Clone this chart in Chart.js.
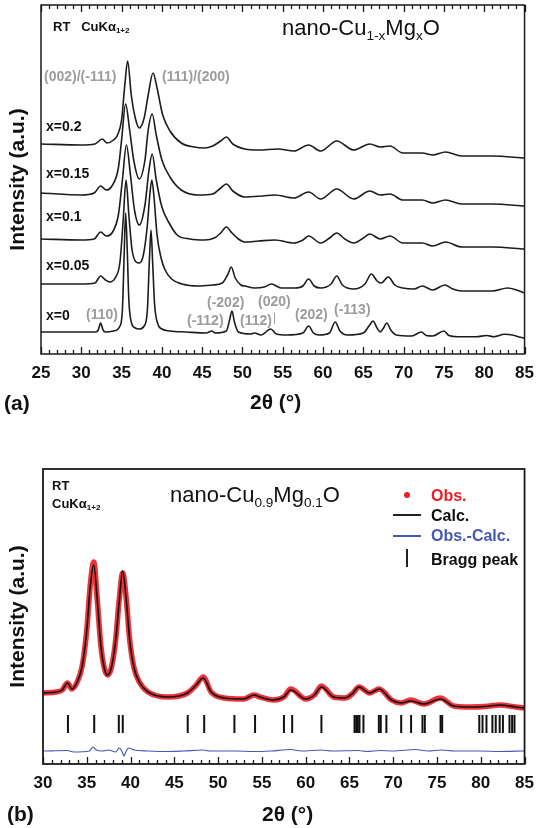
<!DOCTYPE html>
<html>
<head>
<meta charset="utf-8">
<script src="https://cdn.jsdelivr.net/npm/chart.js@4.4.1/dist/chart.umd.min.js"></script>
<style>
  body { margin: 0; background: #fff; }
  #fig { position: relative; width: 543px; height: 828px; font-family: "Liberation Sans", Arial, sans-serif; color: #111; }
  canvas { position: absolute; left: 0; }
  .t { position: absolute; white-space: nowrap; line-height: 1; transform: translateY(-50%); }
  .b { font-weight: bold; }
  .g { color: #9c9c9c; font-weight: bold; font-size: 14px; }
  .lbl { font-weight: bold; font-size: 14px; }
  .ttl { font-size: 22px; }
  .sm { font-weight: bold; font-size: 13px; }
  .leg { font-weight: bold; font-size: 16px; }
  sub { font-size: 0.62em; vertical-align: -0.35em; line-height: 0; }
</style>
</head>
<body>
<div id="fig">
  <canvas id="chartA" width="543" height="415" style="top:0"></canvas>
  <canvas id="chartB" width="543" height="413" style="top:415px"></canvas>

  <!-- panel (a) annotations -->
  <div class="t sm" style="left:53px;top:26px">RT&nbsp;&nbsp;&nbsp;CuK&alpha;<sub>1+2</sub></div>
  <div class="t ttl" style="left:282px;top:28px">nano-Cu<sub>1-x</sub>Mg<sub>x</sub>O</div>
  <div class="t g" style="left:44px;top:76px">(002)/(-111)</div>
  <div class="t g" style="left:162px;top:76px">(111)/(200)</div>
  <div class="t lbl" style="left:46px;top:126px">x=0.2</div>
  <div class="t lbl" style="left:46px;top:173px">x=0.15</div>
  <div class="t lbl" style="left:46px;top:216px">x=0.1</div>
  <div class="t lbl" style="left:46px;top:265px">x=0.05</div>
  <div class="t lbl" style="left:46px;top:315px">x=0</div>
  <div class="t g" style="left:86px;top:314px">(110)</div>
  <div class="t g" style="left:207px;top:302px">(-202)</div>
  <div class="t g" style="left:187px;top:320px">(-112)</div>
  <div class="t g" style="left:240px;top:320px">(112)</div>
  <div style="position:absolute;left:274px;top:313px;width:1px;height:11px;background:#9c9c9c"></div>
  <div class="t g" style="left:258px;top:301px">(020)</div>
  <div class="t g" style="left:295px;top:314px">(202)</div>
  <div class="t g" style="left:334px;top:309px">(-113)</div>
  <div class="t b" style="left:4px;top:402px;font-size:21px">(a)</div>
  <div class="t b" style="left:250px;top:401px;font-size:21px">2&theta; (&deg;)</div>

  <!-- panel (b) annotations -->
  <div class="t sm" style="left:52px;top:485px">RT</div>
  <div class="t sm" style="left:52px;top:503px">CuK&alpha;<sub>1+2</sub></div>
  <div class="t ttl" style="left:170px;top:495px">nano-Cu<sub>0.9</sub>Mg<sub>0.1</sub>O</div>
  <div style="position:absolute;left:404px;top:492px;width:6px;height:6px;border-radius:3px;background:#ee1c24"></div>
  <div class="t leg" style="left:431px;top:496px;color:#ee1c24">Obs.</div>
  <div style="position:absolute;left:393px;top:514px;width:28px;height:2px;background:#222"></div>
  <div class="t leg" style="left:431px;top:516px">Calc.</div>
  <div style="position:absolute;left:393px;top:535px;width:28px;height:2px;background:#4658b8"></div>
  <div class="t leg" style="left:431px;top:536px;color:#4658b8">Obs.-Calc.</div>
  <div style="position:absolute;left:406px;top:549px;width:2px;height:18px;background:#222"></div>
  <div class="t leg" style="left:431px;top:560px">Bragg peak</div>
  <div class="t b" style="left:7px;top:813px;font-size:21px">(b)</div>
  <div class="t b" style="left:262px;top:813px;font-size:21px">2&theta; (&deg;)</div>
</div>

<script>
// ---- (a) nano-Cu(1-x)Mg(x)O patterns: [2theta, intensity a.u.] ----
const compositions = ["x=0", "x=0.05", "x=0.1", "x=0.15", "x=0.2"];
const offsets = [16, 61, 105, 148, 196];

const patX0 = [[25,6],[30,6],[31.8,6],[32.1,8],[32.4,15],[32.7,8],[33.0,6],[34.0,7],[34.8,12],[35.1,28],[35.3,78],[35.5,125],[35.7,88],[35.9,38],[36.2,16],[36.7,10],[37.2,9],[37.8,12],[38.2,28],[38.45,78],[38.65,108],[38.85,76],[39.1,33],[39.5,14],[40.0,9],[41,7],[43,6],[45.5,5],[46.2,7],[46.6,5],[48.0,7],[48.4,18],[48.7,27],[49.0,16],[49.5,6],[51.0,4],[51.5,5],[52.3,3],[53.5,9],[54.2,4],[55.5,3],[57.5,5],[58.2,12],[58.8,5],[59.5,3],[60.8,5],[61.5,16],[62.1,7],[63.0,3],[65.0,5],[65.7,12],[66.2,17],[66.7,10],[67.1,6],[67.5,10],[67.9,15],[68.4,8],[69.1,3],[71,2],[72.2,6],[72.8,2.5],[73.6,2],[75.0,7],[75.6,2.5],[76.7,1.3],[79,1.3],[80.3,2.5],[81.2,1.3],[82.5,3.7],[83.5,3],[84.3,1],[85,0]];
const patX005 = [[25,9],[30,9],[31.7,10],[32.4,17],[33.0,13],[33.5,11],[34.2,15],[34.8,31],[35.2,73],[35.55,113],[35.9,78],[36.3,43],[36.8,31],[37.2,30],[37.7,38],[38.2,68],[38.5,98],[38.75,113],[39.0,98],[39.4,58],[39.9,35],[40.4,23],[41.2,14],[42.5,9],[44.5,7],[46.3,8],[47.5,10],[48.2,19],[48.6,26],[49.1,15],[49.8,8],[50.3,7],[51.5,5],[52.7,6],[53.6,9],[54.8,5],[56.5,5],[57.5,7],[58.2,14],[58.9,7],[59.7,5],[61.0,9],[61.7,17],[62.4,8],[63.8,4],[65.2,9],[66.0,19],[66.7,12],[67.2,10],[68.1,16],[68.9,8],[69.9,5],[71.3,4],[72.3,7],[73.6,3],[75.1,8],[76.1,4],[77.2,2],[81,2],[82.9,5],[84,3],[85,0]];
const patX01 = [[25,10],[30,9],[31.6,10],[32.4,17],[33.1,13],[33.8,16],[34.6,34],[35.1,69],[35.6,104],[36.1,74],[36.6,39],[37.2,24],[37.9,44],[38.4,79],[38.8,95],[39.3,69],[40.0,42],[40.9,26],[41.9,14],[43.5,10],[45.3,9],[46.5,11],[47.3,16],[48.0,22],[48.7,16],[49.5,10],[50.3,7],[52,8],[54.0,9],[56.4,6],[57.5,9],[58.2,13],[59.7,6],[60.8,11],[61.7,16],[62.7,10],[63.8,6],[65.0,11],[65.8,15],[67.1,10],[68.3,13],[69.9,6],[72.3,6],[73.6,3],[75.2,7],[77.2,2],[81,2],[85,0]];
const patX015 = [[25,13],[30,11],[31.6,13],[32.4,20],[33.1,16],[33.8,20],[34.6,38],[35.0,66],[35.5,102],[36.0,76],[36.5,46],[37.2,27],[37.9,46],[38.3,76],[38.8,92],[39.3,71],[40.0,46],[41.0,29],[42.4,16],[44.5,11],[46.3,12],[47.3,18],[48.0,22],[48.8,15],[50.3,9],[52.5,10],[54.0,11],[56.4,8],[58.2,14],[59.7,7],[61.7,17],[63.8,7],[65.8,15],[67.1,11],[68.3,12],[69.9,6],[72.3,6],[73.6,3],[75.2,6],[77.2,2],[81,2],[85,0]];
const patX02 = [[25,14],[30,13],[31.7,14],[32.6,19],[33.2,15],[34.0,18],[34.5,23],[35.0,38],[35.4,73],[35.75,97],[36.2,63],[36.7,40],[37.2,30],[37.8,40],[38.3,63],[38.9,85],[39.4,70],[40.1,43],[41.0,27],[42.4,15],[44,11],[45.3,10],[46.3,12],[47.3,17],[48.0,21],[48.8,14],[50.3,9],[52,8],[54.4,9],[56.4,7],[58.2,13],[59.7,7],[61.7,17],[63.8,8],[65.8,14],[67.1,11],[68.3,12],[69.9,5],[72.3,5],[73.6,3],[75.2,6],[77.2,2],[81,2],[85,0]];
const patterns = [patX0, patX005, patX01, patX015, patX02];

// ---- (b) Rietveld fit of nano-Cu0.9Mg0.1O ----
const obs = [[30,17],[31.5,18],[32.2,20],[32.8,27],[33.3,21],[34.0,30],[34.5,45],[35.0,80],[35.4,125],[35.8,148],[36.2,110],[36.6,65],[37.0,42],[37.35,35],[37.8,42],[38.3,70],[38.7,110],[39.1,137],[39.5,112],[39.9,70],[40.4,42],[41.0,28],[42.0,18],[44.3,13],[46.5,17],[47.5,25],[48.3,33],[49.2,18],[50.7,12],[52.9,11],[54.1,15],[54.8,13],[56.3,10],[57.5,13],[58.3,21],[60.0,11],[61.0,15],[61.8,24],[63.2,13],[64.5,12],[65.3,16],[66.1,23],[67.3,17],[68.4,21],[69.8,10],[70.9,7],[72.0,10],[73.5,6],[75.4,12],[76.9,4],[78.8,3],[80.5,3.5],[82.2,5],[84.0,3],[85,2]];
const calc = [[30,17],[31.5,18],[32.2,20],[32.8,27],[33.3,21],[34.0,30],[34.5,45],[35.0,80],[35.4,124],[35.8,145],[36.2,110],[36.6,65],[37.0,42],[37.35,35],[37.8,42],[38.3,70],[38.7,108],[39.1,139],[39.5,111],[39.9,70],[40.4,42],[41.0,28],[42.0,18],[44.3,13],[46.5,17],[47.5,25],[48.3,32],[49.2,18],[50.7,12],[52.9,11],[54.1,15],[54.8,13],[56.3,10],[57.5,13],[58.3,20],[60.0,11],[61.0,15],[61.8,23],[63.2,13],[64.5,12],[65.3,16],[66.1,23],[67.3,17],[68.4,21],[69.8,10],[70.9,7],[72.0,9],[73.5,6],[75.4,11],[76.9,4],[78.8,3],[80.5,3.5],[82.2,5],[84.0,3],[85,2]];
const diff = [[30,0],[32.8,0.5],[33.5,-1],[35.3,0],[35.7,4],[36.1,1],[36.8,0],[37.5,1],[38.3,-1],[38.7,3],[39.0,0],[39.25,-5],[39.5,0],[39.8,3],[40.4,1],[42,0],[44,-0.5],[46,0],[48.3,1],[49,0],[52,0],[54,-0.5],[56,0],[58.3,1.5],[59.5,0],[61.8,1],[63,0],[66,0.5],[67,-0.5],[68.5,0.5],[70,0],[72.5,1.5],[74,0],[75.5,1],[77,0],[80,0],[82,-0.5],[85,0]];
const diffOffset = -41;
const braggPos = [32.85,35.85,38.66,39.11,46.53,48.41,51.86,54.22,57.52,58.46,61.8,65.58,65.77,65.96,66.15,66.6,68.36,68.58,69.22,70.91,72.04,73.34,73.61,75.41,75.59,79.83,80.2,80.65,81.33,81.71,82.16,82.53,83.28,83.58,83.85];
const braggLevel = -14;

// frame box + inward ticks every 1 deg, longer every 5
const frameTicks = {
  id: "frameTicks",
  afterDraw(chart, args, opts) {
    const { ctx, chartArea: a, scales: { x } } = chart;
    ctx.save();
    ctx.strokeStyle = "#1a1a1a";
    ctx.lineWidth = opts.frame;
    ctx.strokeRect(a.left, a.top, a.width, a.height);
    ctx.lineWidth = 1.3;
    ctx.beginPath();
    for (let v = Math.ceil(x.min); v <= x.max; v++) {
      const px = Math.round(x.getPixelForValue(v)) + 0.5;
      const len = v % 5 === 0 ? 7 : 4;
      ctx.moveTo(px, a.bottom); ctx.lineTo(px, a.bottom - len);
      if (opts.top) { ctx.moveTo(px, a.top); ctx.lineTo(px, a.top + len); }
    }
    ctx.stroke();
    ctx.restore();
  }
};

const pts = (arr, off = 0) => arr.map(([t, v]) => ({ x: t, y: v + off }));

function axes(xmin, xmax, ymin, ymax, xh, yw) {
  return {
    x: {
      type: "linear", min: xmin, max: xmax,
      grid: { display: false, drawTicks: false }, border: { display: false },
      ticks: { stepSize: 5, padding: 9, maxRotation: 0, color: "#111",
               font: { family: "Liberation Sans", size: 17, weight: "bold" } },
      afterFit: s => { s.height = xh; }
    },
    y: {
      min: ymin, max: ymax,
      grid: { display: false, drawTicks: false }, border: { display: false },
      ticks: { display: false },
      title: { display: true, text: "Intensity (a.u.)", color: "#111", padding: { top: 6, bottom: 0 },
               font: { family: "Liberation Sans", size: 21, weight: "bold" } },
      afterFit: s => { s.width = yw; }
    }
  };
}

const common = {
  responsive: false,
  animation: false,
  events: [],
  plugins: { legend: { display: false }, tooltip: { enabled: false } },
  elements: { point: { radius: 0 }, line: { cubicInterpolationMode: "monotone" } }
};

new Chart(document.getElementById("chartA"), {
  type: "line",
  data: {
    datasets: patterns.map((p, k) => ({
      label: compositions[k],
      data: pts(p, offsets[k]),
      borderColor: "#1c1c1c",
      borderWidth: 1.6
    }))
  },
  options: {
    ...common,
    layout: { padding: { top: 5, right: 11, left: 0, bottom: 0 } },
    scales: axes(25, 85, 0, 349, 61, 41),
    plugins: { ...common.plugins, frameTicks: { frame: 1.5, top: true } }
  },
  plugins: [frameTicks]
});

new Chart(document.getElementById("chartB"), {
  type: "line",
  data: {
    datasets: [
      { label: "Calc.", data: pts(calc), borderColor: "#111", borderWidth: 1.6, order: 1 },
      { label: "Obs.", data: pts(obs), borderColor: "rgba(236,28,36,0.9)", borderWidth: 5.5, order: 2 },
      { label: "Obs.-Calc.", data: pts(diff, diffOffset), borderColor: "#4658b8", borderWidth: 1.2, order: 3 },
      { label: "Bragg peak", data: braggPos.map(t => ({ x: t, y: braggLevel })), showLine: false,
        pointStyle: "line", rotation: 90, pointRadius: 9, borderColor: "#111", borderWidth: 2, order: 4 }
    ]
  },
  options: {
    ...common,
    layout: { padding: { top: 54, right: 11, left: 0, bottom: 0 } },
    scales: axes(30, 85, -54, 241, 64, 43),
    plugins: { ...common.plugins, frameTicks: { frame: 1.8, top: false } }
  },
  plugins: [frameTicks]
});
</script>
</body>
</html>
